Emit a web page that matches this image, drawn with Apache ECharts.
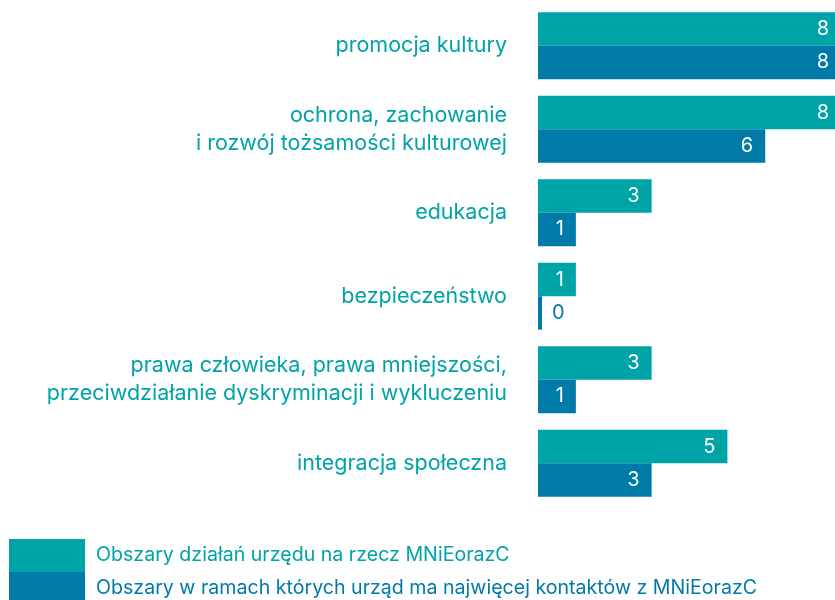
<!DOCTYPE html>
<html>
<head>
<meta charset="utf-8">
<script src="https://cdn.jsdelivr.net/npm/echarts@6/dist/echarts.min.js"></script>
<style>
  html, body { margin: 0; padding: 0; background: #fff; }
  #main { width: 835px; height: 600px; }
</style>
</head>
<body>
<div id="main"></div>
<script>
// kategorie (od góry)
const categories = [
  'promocja kultury',
  'ochrona, zachowanie\ni rozwój tożsamości kulturowej',
  'edukacja',
  'bezpieczeństwo',
  'prawa człowieka, prawa mniejszości,\nprzeciwdziałanie dyskryminacji i wykluczeniu',
  'integracja społeczna'
]
const seriesNames = [
  'Obszary działań urzędu na rzecz MNiEorazC',
  'Obszary w ramach których urząd ma najwięcej kontaktów z MNiEorazC'
]
const dzialania = [8, 8, 3, 1, 3, 5]
const kontakty = [8, 6, 1, 0, 1, 3]

const TEAL = '#00a3a6'
const BLUE = '#007ba8'
const FONT = 'Inter'

const chart = echarts.init(document.getElementById('main'))

// etykieta dla zera - poza słupkiem
function toItems(arr, color) {
  return arr.map(v => v === 0
    ? { value: v, label: { position: 'right', distance: 10, color: color } }
    : v)
}

const barLabel = {
  show: true,
  position: 'insideRight',
  distance: 12,
  color: '#fff',
  fontSize: 20,
  fontFamily: FONT
}

// jedna legenda na wiersz, żeby się nie zawijała
function legendRow(name, color, top) {
  return {
    data: [{ name: name, textStyle: { color: color } }],
    left: 9,
    top: top,
    padding: 0,
    itemWidth: 76,
    itemHeight: 33,
    icon: 'rect',
    selectedMode: false,
    textStyle: { fontSize: 19.6, fontFamily: FONT, padding: [0, 0, 0, 6] }
  }
}

const option = {
  animation: false,
  // szerokość większa niż płótno - słupki 8 wychodzą poza krawędź jak w oryginale
  grid: { left: 538, width: 303, top: 4, height: 501, outerBoundsMode: 'none' },
  xAxis: {
    type: 'value',
    min: 0,
    max: 8,
    show: false
  },
  yAxis: {
    type: 'category',
    inverse: true,
    data: categories,
    axisLine: { show: false },
    axisTick: { show: false },
    axisLabel: {
      margin: 31,
      color: TEAL,
      fontSize: 21.5,
      lineHeight: 28,
      fontFamily: FONT,
      align: 'right'
    }
  },
  legend: [
    legendRow(seriesNames[0], TEAL, 539),
    legendRow(seriesNames[1], BLUE, 572)
  ],
  series: [
    {
      name: seriesNames[0],
      type: 'bar',
      barGap: '0%',
      barCategoryGap: '20%',
      barMinHeight: 4,
      itemStyle: { color: TEAL },
      label: barLabel,
      data: toItems(dzialania, TEAL)
    },
    {
      name: seriesNames[1],
      type: 'bar',
      barMinHeight: 4,
      itemStyle: { color: BLUE },
      label: barLabel,
      data: toItems(kontakty, BLUE)
    }
  ]
}

option && chart.setOption(option)
</script>
</body>
</html>
